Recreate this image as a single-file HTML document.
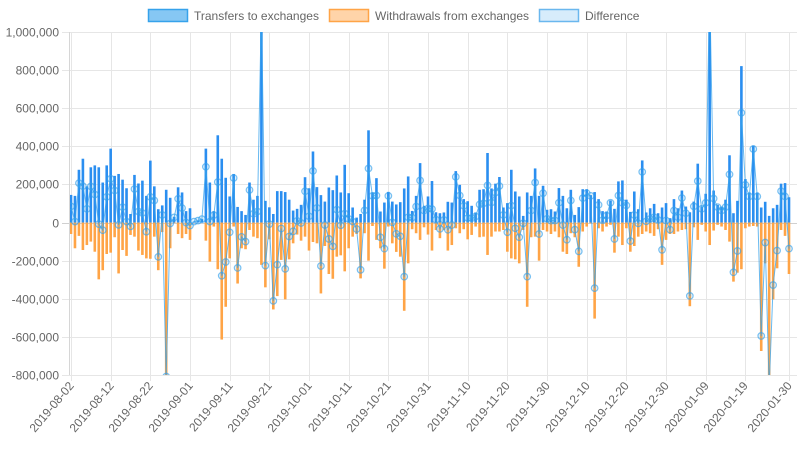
<!DOCTYPE html>
<html><head><meta charset="utf-8"><style>
html,body{margin:0;padding:0;background:#fff;}
svg{display:block;font-family:"Liberation Sans",Arial,sans-serif;}
</style></head><body>
<svg id="chart" width="798" height="450" viewBox="0 0 798 450" xmlns="http://www.w3.org/2000/svg">
<defs><clipPath id="plotclip"><rect x="69" y="32" width="728" height="343"/></clipPath></defs>
<g>
 <g>
  <rect x="148.5" y="9.5" width="39" height="12" fill="rgba(54,162,235,0.6)" stroke="#36a2eb" stroke-width="1.5"/>
  <text x="194" y="20" font-size="12" fill="#666">Transfers to exchanges</text>
 </g>
 <g>
  <rect x="329.5" y="9.5" width="39" height="12" fill="rgba(255,159,64,0.45)" stroke="#ffa447" stroke-width="1.5"/>
  <text x="375" y="20" font-size="12" fill="#666">Withdrawals from exchanges</text>
 </g>
 <g>
  <rect x="539.5" y="9.5" width="39" height="12" fill="rgba(54,162,235,0.2)" stroke="#6ab7ee" stroke-width="1.5"/>
  <text x="585" y="20" font-size="12" fill="#666">Difference</text>
 </g>
</g>
<g id="grid"></g>
<g id="marks" clip-path="url(#plotclip)"></g>
<g id="axes"></g>
</svg>
<script>
const startDate = "2019-08-02";
const yTicks = [1000000,800000,600000,400000,200000,0,-200000,-400000,-600000,-800000];
const transfers = [
145,140,277,335,190,290,300,290,210,300,388,245,255,225,180,45,250,205,220,140,325,190,70,90,172,130,30,185,158,60,75,5,10,18,388,210,60,458,335,235,137,255,82,60,40,210,120,
140,1350,114,80,45,165,165,160,120,63,72,93,238,180,373,186,144,110,184,170,247,158,303,154,79,26,45,120,484,158,233,58,105,161,110,95,107,179,242,61,140,312,88,137,218,54,
49,53,109,105,270,198,123,112,88,53,172,175,365,179,204,239,79,102,277,163,137,35,158,140,284,140,193,67,70,58,181,140,75,172,40,81,175,175,144,160,123,60,58,116,72,216,221,
120,56,163,70,326,53,75,98,49,79,102,23,123,75,168,84,54,110,309,84,151,1350,168,93,84,120,353,49,114,821,228,158,404,158,79,109,35,75,93,204,207,133];
const withdrawals = [
60,135,70,144,118,100,153,298,250,165,158,77,267,144,175,65,74,147,170,188,190,74,250,50,980,135,3,60,82,60,91,0,0,0,95,205,21,245,614,442,188,21,320,135,140,39,74,
82,222,340,88,456,386,196,403,193,109,63,95,74,147,102,109,372,123,270,295,179,172,256,135,74,60,293,56,200,18,91,135,242,21,109,154,179,463,214,35,56,91,25,63,147,39,
82,39,147,118,30,56,35,88,65,21,77,74,170,74,47,47,39,153,188,193,214,39,442,77,74,200,39,47,60,47,77,153,165,56,77,232,47,21,4,504,30,47,21,12,158,74,118,
30,153,123,74,60,47,56,70,35,222,91,60,60,47,39,35,439,25,91,12,47,118,42,12,21,39,100,310,263,245,30,21,18,21,674,214,900,403,240,39,70,270];

const NS="http://www.w3.org/2000/svg";
const L=69.5,R=789,T=32,B=375,X0=71;
const n=transfers.length;
const step=(R-X0)/(n-1);
function xs(i){return X0+i*step;}
function ys(v){return T+(1000000-v)*(B-T)/1800000;}
function mk(tag,attrs,parent){const e=document.createElementNS(NS,tag);for(const k in attrs)e.setAttribute(k,attrs[k]);parent.appendChild(e);return e;}
const grid=document.getElementById('grid'),marks=document.getElementById('marks'),axes=document.getElementById('axes');
function fmt(v){return v.toLocaleString('en-US');}
function dateLabel(i){const d=new Date(startDate+"T00:00:00Z");d.setUTCDate(d.getUTCDate()+i);return d.toISOString().slice(0,10);}
yTicks.forEach(v=>{
  const y=Math.round(ys(v))+0.5;
  const ln=mk('line',{x1:62,x2:797,y1:y,y2:y,stroke:v===0?'#d0d0d0':'#e6e6e6','stroke-width':1},grid);
  
  
  const t=mk('text',{x:59,y:y+4,'text-anchor':'end','font-size':12,fill:'#666'},axes);
  t.textContent=fmt(v);
  
  
});
const xIdx=[];for(let i=0;i<n-5;i+=10)xIdx.push(i);xIdx.push(n-1);
xIdx.forEach(i=>{
  const x=Math.round(xs(i))+0.5;
  const ln=mk('line',{x1:x,x2:x,y1:T,y2:B+6,stroke:'#e6e6e6','stroke-width':1},grid);
  
  
  const t=mk('text',{x:0,y:0,'text-anchor':'end','font-size':12,fill:'#666',transform:'translate('+(x+3)+','+(B+11)+') rotate(-50)'},axes);
  t.textContent=dateLabel(i);
  
  
});
const ax=mk('line',{x1:L,x2:L,y1:T,y2:B,stroke:'#d6d6d6','stroke-width':1},axes);


const y0=ys(0);
for(let i=0;i<n;i++){
  const x=xs(i);
  const tv=transfers[i]*1000,wv=withdrawals[i]*1000;
  const b1=mk('rect',{x:x-1.3,y:ys(tv),width:2.6,height:Math.max(0,y0-ys(tv)),fill:'#2a8ef0'},marks);
  
  
  const b2=mk('rect',{x:x-1.3,y:y0,width:2.6,height:Math.max(0,ys(-wv)-y0),fill:'#ffa446'},marks);
  
  
}
let d='';
for(let i=0;i<n;i++){const v=(transfers[i]-withdrawals[i])*1000;d+=(i?'L':'M')+xs(i).toFixed(2)+','+ys(v).toFixed(2);}
const line=mk('path',{d:d,fill:'none',stroke:'rgba(54,162,235,0.75)','stroke-width':1},marks);


for(let i=0;i<n;i++){
  const v=(transfers[i]-withdrawals[i])*1000;
  const c=mk('circle',{cx:xs(i),cy:ys(v),r:3.3,fill:'rgba(54,162,235,0.15)',stroke:'rgba(54,162,235,0.65)','stroke-width':1.2},marks);
  
  
}
</script>
</body></html>
